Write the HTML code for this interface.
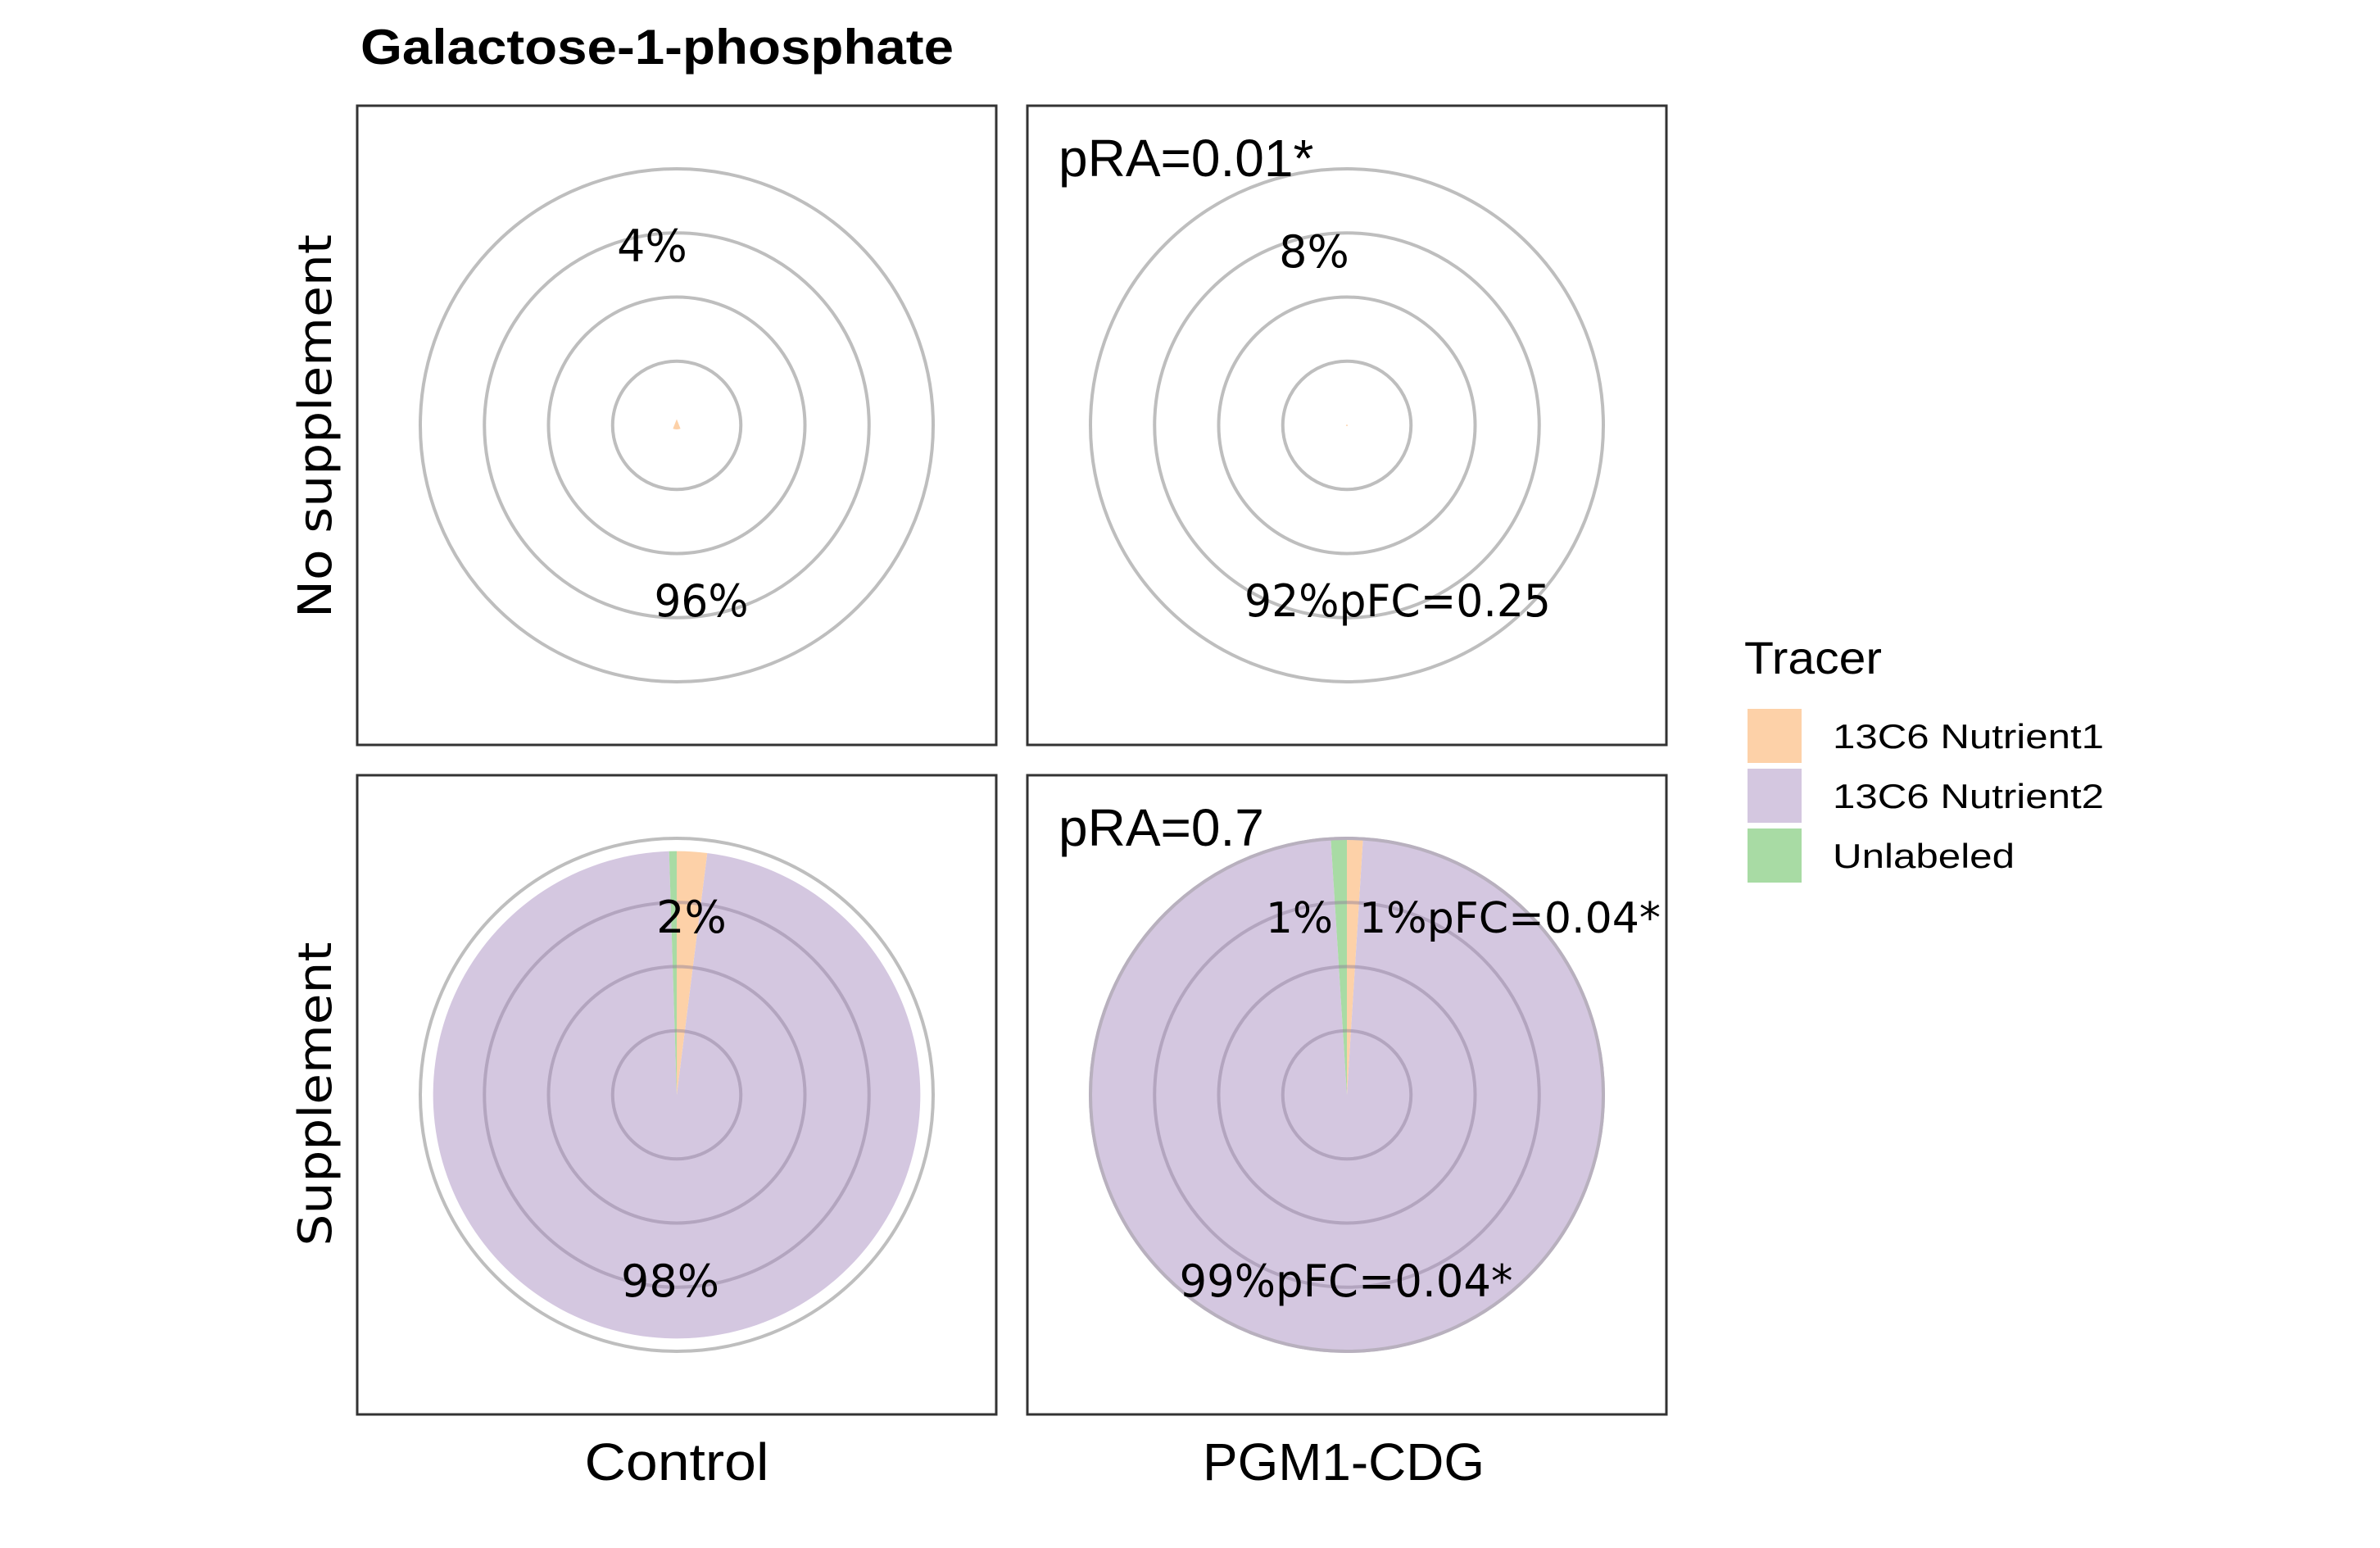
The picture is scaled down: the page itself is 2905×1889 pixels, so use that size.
<!DOCTYPE html>
<html><head><meta charset="utf-8"><style>
html,body{margin:0;padding:0;background:#fff}
svg{display:block}
</style></head><body>
<svg id="chart" width="2905" height="1889" viewBox="0 0 2905 1889" xmlns="http://www.w3.org/2000/svg">
<text x="440" y="78" font-family="Liberation Sans, sans-serif" font-weight="bold" font-size="60" textLength="724" lengthAdjust="spacingAndGlyphs">Galactose-1-phosphate</text>
<g id="panels"></g>
<text transform="translate(404,520) rotate(-90)" text-anchor="middle" font-family="DejaVu Sans, sans-serif" font-size="56" textLength="468" lengthAdjust="spacingAndGlyphs">No supplement</text>
<text transform="translate(404,1335) rotate(-90)" text-anchor="middle" font-family="DejaVu Sans, sans-serif" font-size="56" textLength="371" lengthAdjust="spacingAndGlyphs">Supplement</text>
<text x="826" y="1806" text-anchor="middle" font-family="Liberation Sans, sans-serif" font-size="64" textLength="225" lengthAdjust="spacingAndGlyphs">Control</text>
<text x="1640" y="1806" text-anchor="middle" font-family="Liberation Sans, sans-serif" font-size="64" textLength="344" lengthAdjust="spacingAndGlyphs">PGM1-CDG</text>
<g>
<text x="2129" y="822" font-family="Liberation Sans, sans-serif" font-size="56" textLength="168" lengthAdjust="spacingAndGlyphs">Tracer</text>
<rect x="2133" y="865" width="66" height="66" fill="#FDD1A8"/>
<rect x="2133" y="938" width="66" height="66" fill="#D4C7E0"/>
<rect x="2133" y="1011" width="66" height="66" fill="#A8DBA4"/>
<text x="2237" y="913" font-family="Liberation Sans, sans-serif" font-size="42" textLength="331" lengthAdjust="spacingAndGlyphs">13C6 Nutrient1</text>
<text x="2237" y="986" font-family="Liberation Sans, sans-serif" font-size="42" textLength="331" lengthAdjust="spacingAndGlyphs">13C6 Nutrient2</text>
<text x="2237" y="1059" font-family="Liberation Sans, sans-serif" font-size="42" textLength="222" lengthAdjust="spacingAndGlyphs">Unlabeled</text>
</g>
</svg>
<script>
// data
const panelNames = ['control-no-supplement','pgm1-no-supplement','control-supplement','pgm1-supplement'];
const nutrient1 = [0.04, 0.08, 0.02, 0.01];
const unlabeled = [0.00, 0.00, 0.005, 0.01];
const abundance = [0.04, 0.006, 0.95, 1.0];
const pctLabelTop = ['4%', '8%', '2%', '1%'];
const pctLabelBottom = ['96%', '92%pFC=0.25', '98%', '99%pFC=0.04*'];
const pRA = ['', 'pRA=0.01*', '', 'pRA=0.7'];
const ringLevels = [0.25, 0.5, 0.75, 1.0];

const NS = 'http://www.w3.org/2000/svg';
const g = document.getElementById('panels');
const colX = [436, 1254], rowY = [129, 946], PS = 780, MAXR = 313;
function mk(tag, attrs, parent) {
  const e = document.createElementNS(NS, tag);
  for (const k in attrs) e.setAttribute(k, attrs[k]);
  parent.appendChild(e); return e;
}
function rScale(v) { return v * MAXR; }
function wedge(cx, cy, r, a0, a1) {
  const p = (a) => [cx + r * Math.sin(a * 2 * Math.PI), cy - r * Math.cos(a * 2 * Math.PI)];
  const [x0, y0] = p(a0), [x1, y1] = p(a1);
  const large = (a1 - a0) > 0.5 ? 1 : 0;
  return `M${cx},${cy} L${x0},${y0} A${r},${r} 0 ${large} 1 ${x1},${y1} Z`;
}
panelNames.forEach((name, i) => {
  const x = colX[i % 2], y = rowY[Math.floor(i / 2)];
  const cx = x + PS / 2, cy = y + PS / 2;
  const pg = mk('g', {}, g);
  
  
  const bg = mk('rect', {x: x, y: y, width: PS, height: PS, fill: '#fff', stroke: '#333', 'stroke-width': 3}, pg);
  
  
  ringLevels.forEach(l => {
    const c = mk('circle', {cx: cx, cy: cy, r: rScale(l), fill: 'none', stroke: '#BEBEBE', 'stroke-width': 4}, pg);
    
    
  });
  const r = rScale(abundance[i]);
  const n1 = nutrient1[i], un = unlabeled[i];
  const tiny = abundance[i] < 0.1;
  const slices = [
    ['slice-nutrient2', n1, 1 - un, '#D4C7E0'],
    ['slice-nutrient1', 0, n1, '#FDD1A8'],
    ['slice-unlabeled', 1 - un, 1, '#A8DBA4']
  ];
  slices.forEach(s => {
    if (s[2] - s[1] <= 0) return;
    if (tiny && s[0] !== 'slice-nutrient1') return;
    let el;
    if (tiny) el = mk('path', {d: wedge(cx, cy - r * 0.6, r, 0.5 - s[2] * 1.5, 0.5 + s[2] * 1.5), fill: s[3]}, pg);
    else if (s[2] - s[1] >= 0.999) el = mk('circle', {cx: cx, cy: cy, r: r, fill: s[3]}, pg);
    else el = mk('path', {d: wedge(cx, cy, r, s[1], s[2]), fill: s[3]}, pg);
    
    
  });
  if (abundance[i] >= 0.99) {
    const b = mk('circle', {cx: cx, cy: cy, r: r, fill: 'none', stroke: '#B8B0BE', 'stroke-width': 4}, pg);
    
    
  }
  if (abundance[i] > 0.5) {
    ringLevels.slice(0, 3).forEach(l => {
      const c = mk('circle', {cx: cx, cy: cy, r: rScale(l), fill: 'none', stroke: 'rgba(140,125,150,0.45)', 'stroke-width': 4}, pg);
      
      
    });
  }
  const font = 'DejaVu Sans, sans-serif';
  if (i === 3) {
    const t1 = mk('text', {x: 1545, y: cy - 198, 'font-family': font, 'font-size': 52, textLength: 82, lengthAdjust: 'spacingAndGlyphs'}, pg);
    t1.textContent = '1%';
    
    
    const t2 = mk('text', {x: 1659, y: cy - 198, 'font-family': font, 'font-size': 52, textLength: 368, lengthAdjust: 'spacingAndGlyphs'}, pg);
    t2.textContent = pctLabelTop[i] + 'pFC=0.04*';
    
    
  } else {
    const t1 = mk('text', {x: cx + (i === 0 ? -30 : (i === 1 ? -40 : 18)), y: cy - (i === 1 ? 193 : (i === 2 ? 198 : 200)), 'text-anchor': 'middle', 'font-family': font, 'font-size': 54}, pg);
    t1.textContent = pctLabelTop[i];
    
    
  }
  const bx = [856, 1706, 818, 1643][i];
  const bw = [115, 374, 120, 407][i];
  const t3 = mk('text', {x: bx, y: cy + (i < 2 ? 233 : 246), 'text-anchor': 'middle', 'font-family': font, 'font-size': 54, textLength: bw, lengthAdjust: 'spacingAndGlyphs'}, pg);
  t3.textContent = pctLabelBottom[i];
  
  
  if (pRA[i]) {
    const t4 = mk('text', {x: x + 38, y: y + 86, 'font-family': 'Liberation Sans, sans-serif', 'font-size': 64}, pg);
    t4.textContent = pRA[i];
    
    
  }
});
</script>
</body></html>
